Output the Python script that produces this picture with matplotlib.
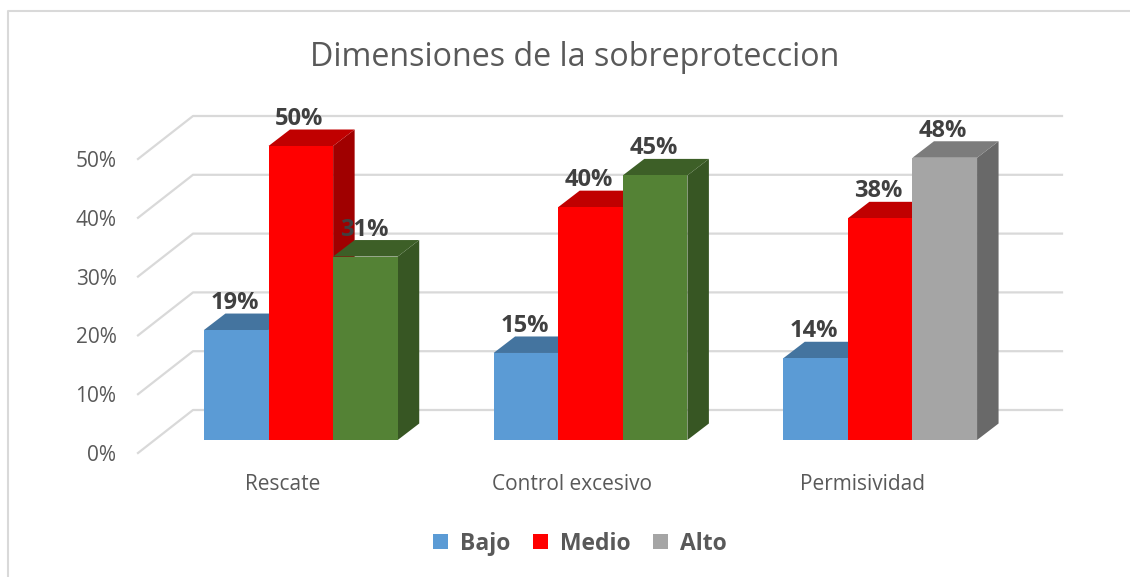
import numpy as np
import matplotlib
matplotlib.use("Agg")
import matplotlib.pyplot as plt
from matplotlib.patches import Polygon, Rectangle, Patch

categorias = ["Rescate", "Control excesivo", "Permisividad"]
series = ["Bajo", "Medio", "Alto"]
bajo = [18.7, 14.8, 13.9]
medio = [50, 39.6, 37.7]
alto = [31.2, 45, 48]
y_ticks = [0, 10, 20, 30, 40, 50]

# colores: frente, tapa, lado
azul = ("#5B9BD5", "#44749F", "#3A6B96")
rojo = ("#FF0000", "#C00000", "#A00000")
verde = ("#548235", "#3D5F27", "#375623")
gris = ("#A5A5A5", "#7C7C7C", "#696969")
colores_alto = [verde, verde, gris]

plt.rcParams["font.family"] = ["Open Sans", "DejaVu Sans"]

W, H = 1130, 577
fig = plt.figure(figsize=(W / 100, H / 100), dpi=100)
ax = fig.add_axes([138 / W, (H - 453) / H, 869 / W, 294 / H])
ax.set_xlim(0, 3)
ax.set_ylim(0, 50)

# escala px -> datos, para la perspectiva falsa
px_x = 3 / 869
px_y = 50 / 294

# pared y piso
wall_dx, wall_dy = 55 * px_x, 43 * px_y
for v in y_ticks:
    ax.plot([0, wall_dx, 3 + wall_dx], [v, v + wall_dy, v + wall_dy],
            color="#D9D9D9", lw=1.6, clip_on=False, zorder=1)

# barras
bar_w = 64.6 * px_x
off_x, off_y = 18.0 * px_x, 13 * px_y
d_x, d_y = 21.5 * px_x, 16.5 * px_y


def barra(x, v, cols, z):
    x0 = x + off_x
    y0 = off_y
    y1 = y0 + v
    x1 = x0 + bar_w
    ax.add_patch(Polygon([(x1, y0), (x1 + d_x, y0 + d_y), (x1 + d_x, y1 + d_y), (x1, y1)],
                         fc=cols[2], ec="none", clip_on=False, zorder=z))
    ax.add_patch(Polygon([(x0, y1), (x0 + d_x, y1 + d_y), (x1 + d_x, y1 + d_y), (x1, y1)],
                         fc=cols[1], ec="none", clip_on=False, zorder=z))
    ax.add_patch(Rectangle((x0, y0), bar_w, v, fc=cols[0], ec="none", clip_on=False, zorder=z))
    ax.annotate(f"{v:.0f}%", (x0 + bar_w / 2, y1), xytext=(-1.5, 27), textcoords="offset pixels",
                ha="center", va="center", fontsize=17, fontweight="bold",
                color="#404040", zorder=10, annotation_clip=False)


for i in range(3):
    c = i + 0.5
    barra(c - 1.5 * bar_w, bajo[i], azul, 3)
    barra(c - 0.5 * bar_w, medio[i], rojo, 4)
    barra(c + 0.5 * bar_w, alto[i], colores_alto[i], 5)

ax.set_xticks([0.5, 1.5, 2.5])
ax.set_xticklabels(categorias)
ax.set_yticks(y_ticks)
ax.set_yticklabels([f"{v}%" for v in y_ticks])
ax.tick_params(axis="x", length=0, pad=15, labelsize=15, labelcolor="#595959")
ax.tick_params(axis="y", length=0, pad=15.5, labelsize=15, labelcolor="#595959")
for s in ax.spines.values():
    s.set_visible(False)
ax.patch.set_alpha(0)

fig.text(575 / W, 1 - 58 / H, "Dimensiones de la sobreproteccion", ha="center", va="center",
         fontsize=23.2, color="#595959")

handles = [Patch(fc=azul[0]), Patch(fc=rojo[0]), Patch(fc=gris[0])]
fig.legend(handles, series, loc="center", bbox_to_anchor=(580 / W, 1 - 543.5 / H), ncol=3,
           frameon=False, handlelength=0.66, handleheight=0.66, handletextpad=0.55, columnspacing=0.95,
           prop={"size": 16.5, "weight": "bold"}, labelcolor="#595959")

# marco del grafico
fig.add_artist(plt.Line2D([8 / W, 8 / W, 1], [0, 1 - 11 / H, 1 - 11 / H],
                          color="#D9D9D9", lw=1.5))

fig.savefig("out.png", dpi=100)
